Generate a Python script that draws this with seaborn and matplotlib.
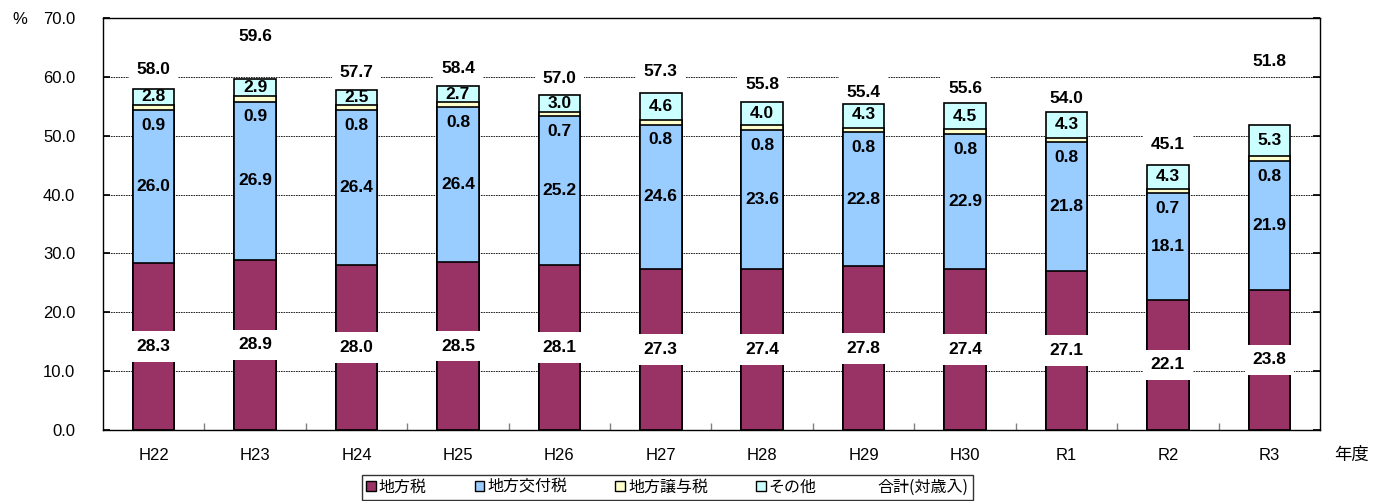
import matplotlib
matplotlib.use("Agg")
import matplotlib.pyplot as plt
from matplotlib.patches import Rectangle
from matplotlib.ticker import FixedLocator
import numpy as np
import seaborn as sns

# -------------------------------------------------------------------
# Data (% of annual revenue)
# -------------------------------------------------------------------

years = ["H22", "H23", "H24", "H25", "H26", "H27", "H28", "H29", "H30", "R1", "R2", "R3"]
local_tax = [28.3, 28.9, 28.0, 28.5, 28.1, 27.3, 27.4, 27.8, 27.4, 27.1, 22.1, 23.8]
allocation_tax = [26.0, 26.9, 26.4, 26.4, 25.2, 24.6, 23.6, 22.8, 22.9, 21.8, 18.1, 21.9]
transfer_tax = [0.9, 0.9, 0.8, 0.8, 0.7, 0.8, 0.8, 0.8, 0.8, 0.8, 0.7, 0.8]
other = [2.8, 2.9, 2.5, 2.7, 3.0, 4.6, 4.0, 4.3, 4.5, 4.3, 4.3, 5.3]
total = [58.0, 59.6, 57.7, 58.4, 57.0, 57.3, 55.8, 55.4, 55.6, 54.0, 45.1, 51.8]

series_names = ["地方税", "地方交付税", "地方譲与税", "その他", "合計(対歳入)"]

# layout only: how far above the stack the total label sits
total_label_offset = [3.2, 7.2, 3.0, 3.0, 2.7, 3.6, 2.9, 1.9, 2.4, 2.3, 3.4, 10.8]

COLORS = ["#993366", "#99CCFF", "#FFFFCC", "#CCFFFF"]

sns.set_theme(style="white")
plt.rcParams["font.family"] = ["Liberation Sans", "Noto Sans CJK JP"]
plt.rcParams["text.color"] = "black"
plt.rcParams["xtick.color"] = "black"
plt.rcParams["ytick.color"] = "black"
plt.rcParams["axes.labelcolor"] = "black"
CJK = ["Noto Sans CJK JP", "Liberation Sans"]

fig = plt.figure(figsize=(13.73, 5.01), dpi=100)
ax = fig.add_axes([0.075, 0.1417, 0.8864, 0.8223])

# cumulative stack tops
cum1 = np.array(local_tax)
cum2 = cum1 + np.array(allocation_tax)
cum3 = cum2 + np.array(transfer_tax)
cum4 = np.array(total)

# draw from top of the stack down so each layer overlaps the one above
for tops, color in zip([cum4, cum3, cum2, cum1], COLORS[::-1]):
    sns.barplot(
        x=years, y=tops, color=color, saturation=1, width=0.41,
        edgecolor="black", linewidth=1.2, ax=ax, zorder=2,
    )

xs = np.arange(len(years))
label_kw = dict(ha="center", va="center", fontsize=12.5, fontweight="bold", color="black")
white_box = dict(boxstyle="square,pad=0.45", facecolor="white", edgecolor="none")

for i, x in enumerate(xs):
    ax.text(x, local_tax[i] / 2, f"{local_tax[i]:.1f}", bbox=white_box, zorder=5, **label_kw)
    ax.text(x, cum1[i] + allocation_tax[i] / 2, f"{allocation_tax[i]:.1f}", zorder=5, **label_kw)
    ax.text(x, cum2[i] - 2.6, f"{transfer_tax[i]:.1f}", zorder=5, **label_kw)
    ax.text(x, cum3[i] + other[i] / 2, f"{other[i]:.1f}", zorder=5, **label_kw)
    # sits under the bars, only masks the gridline
    ax.text(x, total[i] + total_label_offset[i], f"{total[i]:.1f}", bbox=white_box,
            zorder=1.5, **label_kw)

# axes styling
ax.set_xlim(-0.5, len(years) - 0.5)
ax.set_ylim(0, 70)
ax.set_yticks(np.arange(0, 71, 10))
ax.set_yticklabels([f"{v:.1f}" for v in np.arange(0, 71, 10)], fontsize=12)
ax.set_xticks(xs)
ax.set_xticklabels(years, fontsize=12)
ax.xaxis.set_minor_locator(FixedLocator(xs[:-1] + 0.5))
ax.tick_params(axis="x", which="major", length=0, pad=13)
ax.tick_params(axis="x", which="minor", direction="in", length=5, color="#808080", bottom=True)
ax.tick_params(axis="y", which="major", direction="in", length=5, left=True, right=True,
               pad=20, color="black")
ax.set_axisbelow(True)
ax.yaxis.grid(True, color="black", linestyle=(0, (2, 1)), linewidth=0.6)
ax.set_xlabel("")
ax.set_ylabel("")
for side in ["left", "right", "top", "bottom"]:
    ax.spines[side].set_visible(True)
    ax.spines[side].set_color("black")
    ax.spines[side].set_linewidth(1.0)

fig.text(0.009, 0.962, "%", fontsize=12, ha="left", va="center")
fig.text(0.972, 0.092, "年度", fontsize=12.5, ha="left", va="center", family=CJK)

# legend
handles = [Rectangle((0, 0), 1, 1, facecolor=c, edgecolor="black", linewidth=1.0) for c in COLORS]
handles.append(Rectangle((0, 0), 1, 1, facecolor="none", edgecolor="none"))
leg = fig.legend(
    handles, series_names, loc="center", bbox_to_anchor=(0.486, 0.027), ncol=5,
    frameon=True, fancybox=False, edgecolor="black", handlelength=0.6, handleheight=0.6,
    handletextpad=0.2, columnspacing=3.0, borderpad=0.25,
    prop={"family": CJK, "size": 11.5},
)
leg.get_frame().set_linewidth(1.0)

fig.savefig("out.png", dpi=100)
